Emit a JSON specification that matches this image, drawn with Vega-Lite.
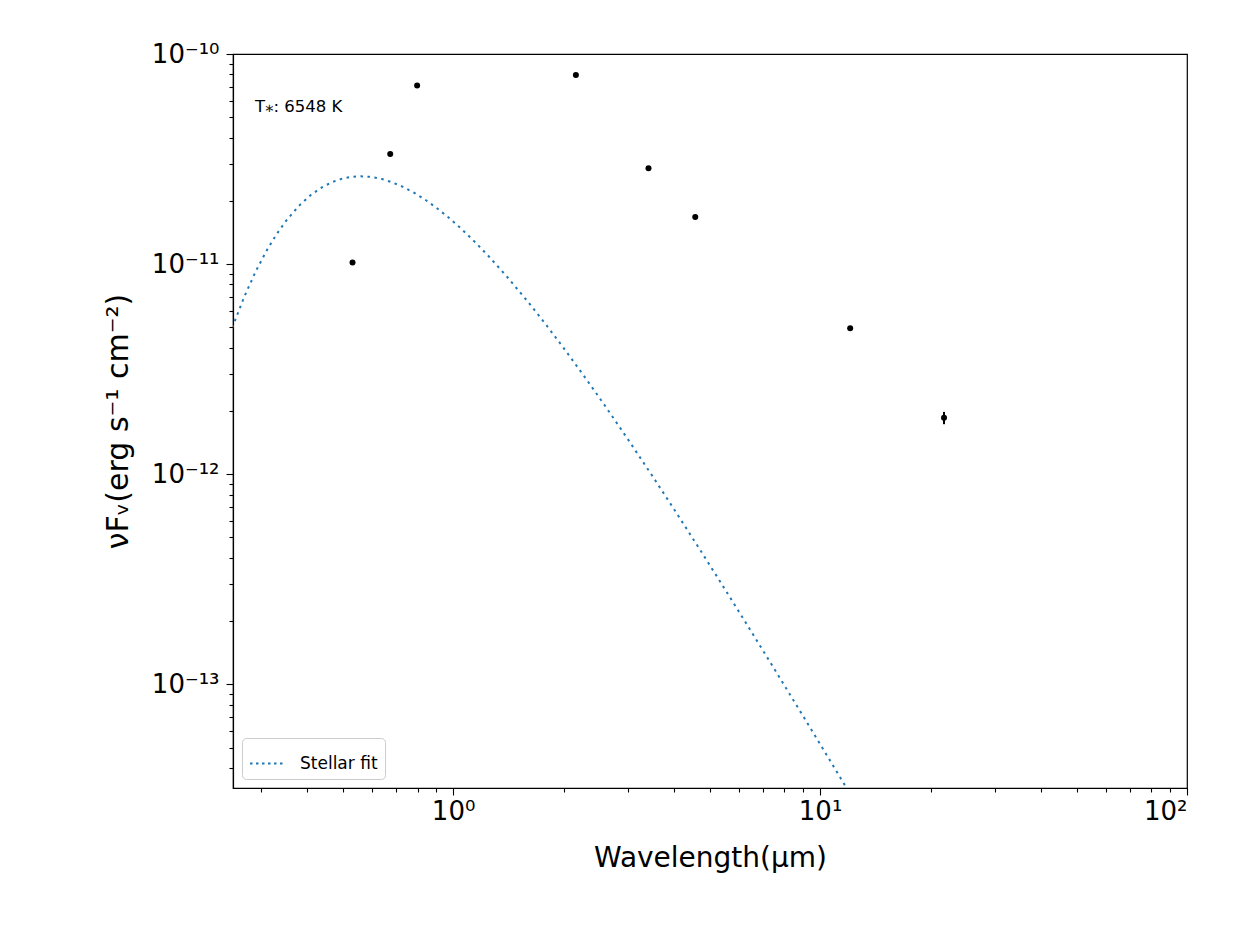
{
  "$schema": "https://vega.github.io/schema/vega-lite/v6.json",
  "width": 954,
  "height": 734,
  "autosize": {"type": "none"},
  "padding": {"left": 233, "top": 54, "right": 48, "bottom": 143},
  "background": "white",
  "config": {
    "font": "DejaVu Sans",
    "view": {"stroke": "#000000", "strokeWidth": 1.2},
    "axis": {
      "grid": false,
      "domainColor": "#000000",
      "domainWidth": 1.2,
      "tickColor": "#000000",
      "tickWidth": 1.1,
      "labelColor": "#000000",
      "titleColor": "#000000",
      "labelFont": "DejaVu Sans",
      "titleFont": "DejaVu Sans",
      "titleFontWeight": "normal"
    }
  },
  "datasets": {
    "fit": [
      {"wavelength": 0.25, "flux": 4.984e-12, "series": "Stellar fit"},
      {"wavelength": 0.27, "flux": 7.025e-12, "series": "Stellar fit"},
      {"wavelength": 0.29, "flux": 9.255e-12, "series": "Stellar fit"},
      {"wavelength": 0.31, "flux": 1.156e-11, "series": "Stellar fit"},
      {"wavelength": 0.33, "flux": 1.384e-11, "series": "Stellar fit"},
      {"wavelength": 0.35, "flux": 1.601e-11, "series": "Stellar fit"},
      {"wavelength": 0.38, "flux": 1.894e-11, "series": "Stellar fit"},
      {"wavelength": 0.41, "flux": 2.137e-11, "series": "Stellar fit"},
      {"wavelength": 0.44, "flux": 2.326e-11, "series": "Stellar fit"},
      {"wavelength": 0.47, "flux": 2.464e-11, "series": "Stellar fit"},
      {"wavelength": 0.50, "flux": 2.555e-11, "series": "Stellar fit"},
      {"wavelength": 0.53, "flux": 2.604e-11, "series": "Stellar fit"},
      {"wavelength": 0.56, "flux": 2.619e-11, "series": "Stellar fit"},
      {"wavelength": 0.60, "flux": 2.598e-11, "series": "Stellar fit"},
      {"wavelength": 0.64, "flux": 2.540e-11, "series": "Stellar fit"},
      {"wavelength": 0.68, "flux": 2.457e-11, "series": "Stellar fit"},
      {"wavelength": 0.73, "flux": 2.332e-11, "series": "Stellar fit"},
      {"wavelength": 0.78, "flux": 2.195e-11, "series": "Stellar fit"},
      {"wavelength": 0.84, "flux": 2.024e-11, "series": "Stellar fit"},
      {"wavelength": 0.90, "flux": 1.856e-11, "series": "Stellar fit"},
      {"wavelength": 0.97, "flux": 1.671e-11, "series": "Stellar fit"},
      {"wavelength": 1.05, "flux": 1.479e-11, "series": "Stellar fit"},
      {"wavelength": 1.15, "flux": 1.269e-11, "series": "Stellar fit"},
      {"wavelength": 1.25, "flux": 1.090e-11, "series": "Stellar fit"},
      {"wavelength": 1.4, "flux": 8.741e-12, "series": "Stellar fit"},
      {"wavelength": 1.6, "flux": 6.611e-12, "series": "Stellar fit"},
      {"wavelength": 1.8, "flux": 5.092e-12, "series": "Stellar fit"},
      {"wavelength": 2.0, "flux": 3.992e-12, "series": "Stellar fit"},
      {"wavelength": 2.3, "flux": 2.854e-12, "series": "Stellar fit"},
      {"wavelength": 2.6, "flux": 2.105e-12, "series": "Stellar fit"},
      {"wavelength": 3.0, "flux": 1.460e-12, "series": "Stellar fit"},
      {"wavelength": 3.5, "flux": 9.746e-13, "series": "Stellar fit"},
      {"wavelength": 4.0, "flux": 6.815e-13, "series": "Stellar fit"},
      {"wavelength": 4.7, "flux": 4.393e-13, "series": "Stellar fit"},
      {"wavelength": 5.5, "flux": 2.843e-13, "series": "Stellar fit"},
      {"wavelength": 6.5, "flux": 1.779e-13, "series": "Stellar fit"},
      {"wavelength": 7.5, "flux": 1.186e-13, "series": "Stellar fit"},
      {"wavelength": 9.0, "flux": 7.041e-14, "series": "Stellar fit"},
      {"wavelength": 10.5, "flux": 4.515e-14, "series": "Stellar fit"},
      {"wavelength": 12.0, "flux": 3.066e-14, "series": "Stellar fit"},
      {"wavelength": 13.0, "flux": 2.429e-14, "series": "Stellar fit"}
    ],
    "phot": [
      {"wavelength": 0.532, "flux": 1.019e-11},
      {"wavelength": 0.674, "flux": 3.345e-11},
      {"wavelength": 0.798, "flux": 7.09e-11},
      {"wavelength": 2.161, "flux": 7.94e-11},
      {"wavelength": 3.408, "flux": 2.86e-11},
      {"wavelength": 4.57, "flux": 1.674e-11},
      {"wavelength": 12.08, "flux": 4.95e-12},
      {"wavelength": 21.77, "flux": 1.855e-12, "lo": 1.73e-12, "hi": 1.98e-12}
    ],
    "note": [
      {"wavelength": 0.2886, "flux": 5.6e-11, "text": "T⁎: 6548 K"}
    ]
  },
  "layer": [
    {
      "data": {"name": "fit"},
      "mark": {"type": "line", "clip": true, "strokeDash": [2.5, 4.5], "strokeWidth": 2},
      "encoding": {
        "x": {
          "field": "wavelength", "type": "quantitative",
          "scale": {"type": "log", "domain": [0.2513, 100], "nice": false, "zero": false},
          "axis": {
            "orient": "bottom",
            "values": [1, 10, 100],
            "labelExpr": "datum.value < 5 ? '10⁰' : datum.value < 50 ? '10¹' : '10²'",
            "labelFontSize": 26,
            "labelPadding": 3,
            "tickSize": 7,
            "title": "Wavelength(μm)",
            "titleFontSize": 28,
            "titlePadding": 20
          }
        },
        "y": {
          "field": "flux", "type": "quantitative",
          "scale": {"type": "log", "domain": [3.21e-14, 1e-10], "nice": false, "zero": false},
          "axis": {
            "orient": "left",
            "values": [1e-13, 1e-12, 1e-11, 1e-10],
            "labelExpr": "datum.value > 5e-11 ? '10⁻¹⁰' : datum.value > 5e-12 ? '10⁻¹¹' : datum.value > 5e-13 ? '10⁻¹²' : '10⁻¹³'",
            "labelFontSize": 26,
            "labelPadding": 7,
            "tickSize": 7,
            "title": "νFᵥ(erg s⁻¹ cm⁻²)",
            "titleFontSize": 30,
            "titlePadding": 18
          }
        },
        "color": {
          "field": "series", "type": "nominal",
          "scale": {"range": ["#1f77b4"]},
          "legend": {
            "title": null,
            "orient": "bottom-left",
            "offset": 9,
            "symbolType": "stroke",
            "symbolSize": 1225,
            "symbolStrokeWidth": 2,
            "symbolDash": [2.5, 3.5],
            "labelFontSize": 17,
            "labelFont": "DejaVu Sans",
            "labelColor": "#000000",
            "labelOffset": 14,
            "fillColor": "white",
            "strokeColor": "#cccccc",
            "cornerRadius": 4,
            "padding": 7
          }
        }
      }
    },
    {
      "data": {"name": "phot"},
      "transform": [{"filter": "isValid(datum.lo)"}],
      "mark": {"type": "rule", "color": "#000000", "strokeWidth": 2},
      "encoding": {
        "x": {"field": "wavelength", "type": "quantitative", "axis": null},
        "y": {"field": "lo", "type": "quantitative", "axis": null},
        "y2": {"field": "hi"}
      }
    },
    {
      "data": {"name": "phot"},
      "mark": {"type": "point", "filled": true, "color": "#000000", "size": 36, "opacity": 1},
      "encoding": {
        "x": {"field": "wavelength", "type": "quantitative", "axis": null},
        "y": {"field": "flux", "type": "quantitative", "axis": null}
      }
    },
    {
      "data": {"name": "note"},
      "mark": {"type": "text", "align": "left", "baseline": "middle", "fontSize": 16.5, "font": "DejaVu Sans", "color": "#000000"},
      "encoding": {
        "x": {"field": "wavelength", "type": "quantitative", "axis": null},
        "y": {"field": "flux", "type": "quantitative", "axis": null},
        "text": {"field": "text"}
      }
    },
    {
      "data": {"name": "phot"},
      "mark": {"type": "point", "opacity": 0},
      "encoding": {
        "x": {
          "field": "wavelength", "type": "quantitative",
          "axis": {
            "orient": "bottom",
            "values": [0.3, 0.4, 0.5, 0.6, 0.7, 0.8, 0.9, 2, 3, 4, 5, 6, 7, 8, 9, 20, 30, 40, 50, 60, 70, 80, 90],
            "labels": false,
            "tickSize": 4,
            "domain": false,
            "title": null
          }
        },
        "y": {
          "field": "flux", "type": "quantitative",
          "axis": {
            "orient": "left",
            "values": [4e-14, 5e-14, 6e-14, 7e-14, 8e-14, 9e-14, 2e-13, 3e-13, 4e-13, 5e-13, 6e-13, 7e-13, 8e-13, 9e-13, 2e-12, 3e-12, 4e-12, 5e-12, 6e-12, 7e-12, 8e-12, 9e-12, 2e-11, 3e-11, 4e-11, 5e-11, 6e-11, 7e-11, 8e-11, 9e-11],
            "labels": false,
            "tickSize": 4,
            "domain": false,
            "title": null
          }
        }
      }
    }
  ],
  "resolve": {"axis": {"x": "independent", "y": "independent"}}
}
